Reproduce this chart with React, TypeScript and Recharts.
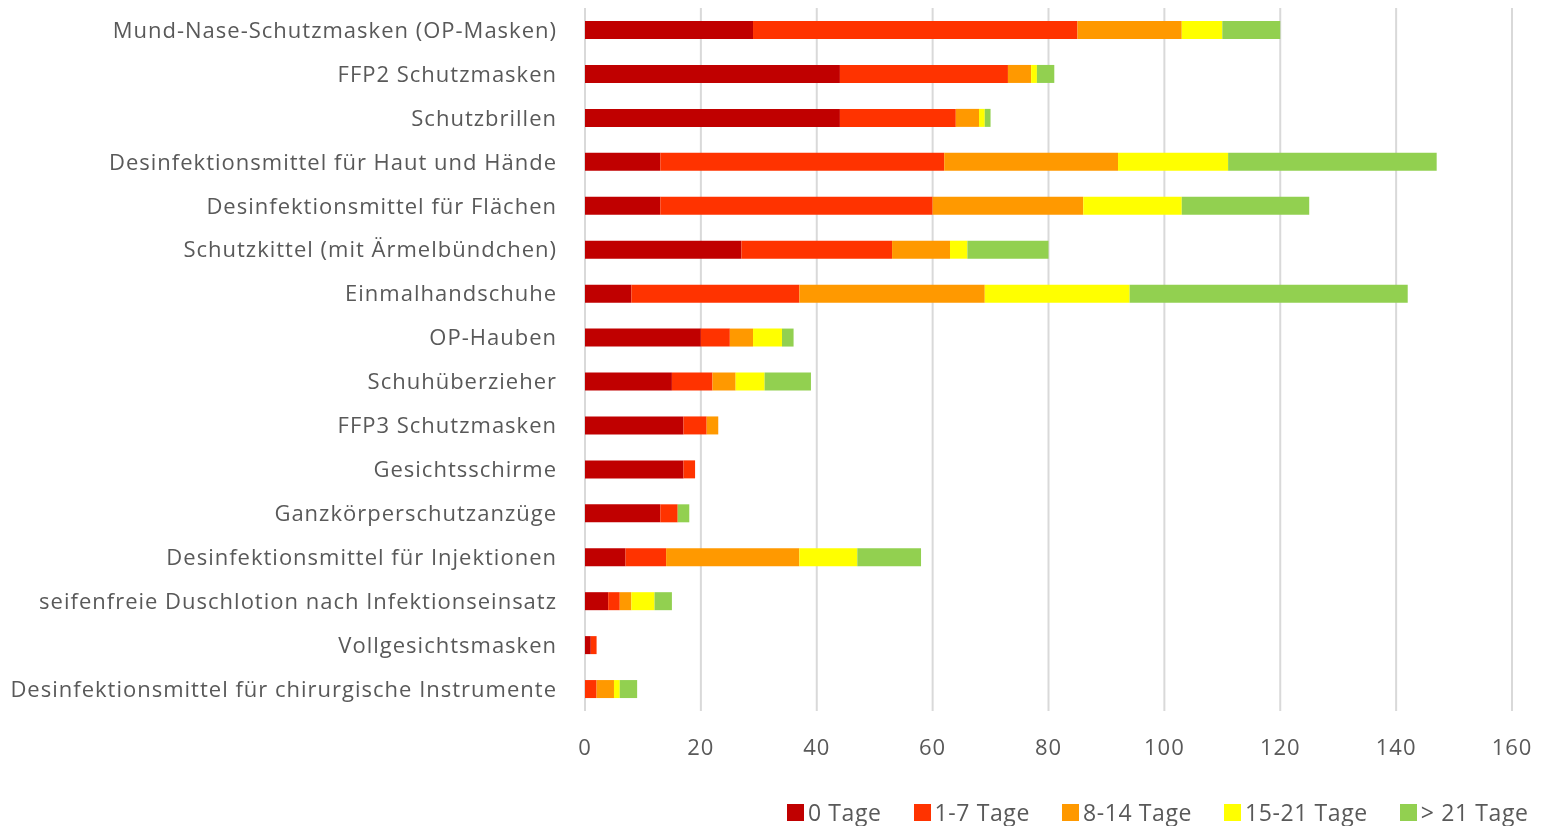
import React from "react";
import { Bar, BarChart, CartesianGrid, Legend, XAxis, YAxis } from "recharts";

const categories = [
  "Mund-Nase-Schutzmasken (OP-Masken)",
  "FFP2 Schutzmasken",
  "Schutzbrillen",
  "Desinfektionsmittel für Haut und Hände",
  "Desinfektionsmittel für Flächen",
  "Schutzkittel (mit Ärmelbündchen)",
  "Einmalhandschuhe",
  "OP-Hauben",
  "Schuhüberzieher",
  "FFP3 Schutzmasken",
  "Gesichtsschirme",
  "Ganzkörperschutzanzüge",
  "Desinfektionsmittel für Injektionen",
  "seifenfreie Duschlotion nach Infektionseinsatz",
  "Vollgesichtsmasken",
  "Desinfektionsmittel für chirurgische Instrumente",
];

const tage0 = [29, 44, 44, 13, 13, 27, 8, 20, 15, 17, 17, 13, 7, 4, 1, 0];
const tage1to7 = [56, 29, 20, 49, 47, 26, 29, 5, 7, 4, 2, 3, 7, 2, 1, 2];
const tage8to14 = [18, 4, 4, 30, 26, 10, 32, 4, 4, 2, 0, 0, 23, 2, 0, 3];
const tage15to21 = [7, 1, 1, 19, 17, 3, 25, 5, 5, 0, 0, 0, 10, 4, 0, 1];
const tageOver21 = [10, 3, 1, 36, 22, 14, 48, 2, 8, 0, 0, 2, 11, 3, 0, 3];

const xTicks = [0, 20, 40, 60, 80, 100, 120, 140, 160];

const series = [
  { key: "t0", name: "0 Tage", color: "#C00000" },
  { key: "t1", name: "1-7 Tage", color: "#FF3300" },
  { key: "t2", name: "8-14 Tage", color: "#FF9900" },
  { key: "t3", name: "15-21 Tage", color: "#FFFF00" },
  { key: "t4", name: "> 21 Tage", color: "#92D050" },
];

const data = categories.map((name, i) => ({
  name,
  t0: tage0[i],
  t1: tage1to7[i],
  t2: tage8to14[i],
  t3: tage15to21[i],
  t4: tageOver21[i],
}));

const FONT = "'Open Sans', sans-serif";

function LegendContent() {
  return (
    <div
      style={{
        display: "flex",
        gap: 32,
        fontFamily: FONT,
        fontSize: 23,
        letterSpacing: 0.6,
        color: "#595959",
        lineHeight: "30px",
        whiteSpace: "nowrap",
      }}
    >
      {series.map((s) => (
        <div key={s.key} style={{ display: "flex", alignItems: "center" }}>
          <span style={{ width: 17, height: 17, background: s.color, marginRight: 4, display: "inline-block" }} />
          <span>{s.name}</span>
        </div>
      ))}
    </div>
  );
}

export default function App() {
  return (
    <div style={{ position: "fixed", left: 0, top: 0 }}>
      <BarChart
        width={1545}
        height={826}
        data={data}
        layout="vertical"
        margin={{ top: 8, right: 33, bottom: 35, left: 0 }}
        barSize={18}
      >
        <CartesianGrid horizontal={false} stroke="#d9d9d9" strokeWidth={2} />
        <XAxis
          type="number"
          domain={[0, 160]}
          ticks={xTicks}
          axisLine={false}
          tickLine={false}
          height={50}
          tickMargin={22}
          tick={{ fontSize: 22, fill: "#595959", fontFamily: FONT, letterSpacing: 1 }}
        />
        <YAxis
          type="category"
          dataKey="name"
          width={585}
          axisLine={false}
          tickLine={false}
          tickSize={0}
          tickMargin={28}
          interval={0}
          tick={{ fontSize: 22, fill: "#595959", fontFamily: FONT, letterSpacing: 1 }}
        />
        <Legend
          verticalAlign="bottom"
          content={<LegendContent />}
          wrapperStyle={{ left: 787, top: 797, bottom: "auto", width: "auto", height: 30 }}
        />
        {series.map((s) => (
          <Bar
            key={s.key}
            dataKey={s.key}
            name={s.name}
            stackId="a"
            fill={s.color}
            isAnimationActive={false}
          />
        ))}
      </BarChart>
    </div>
  );
}
